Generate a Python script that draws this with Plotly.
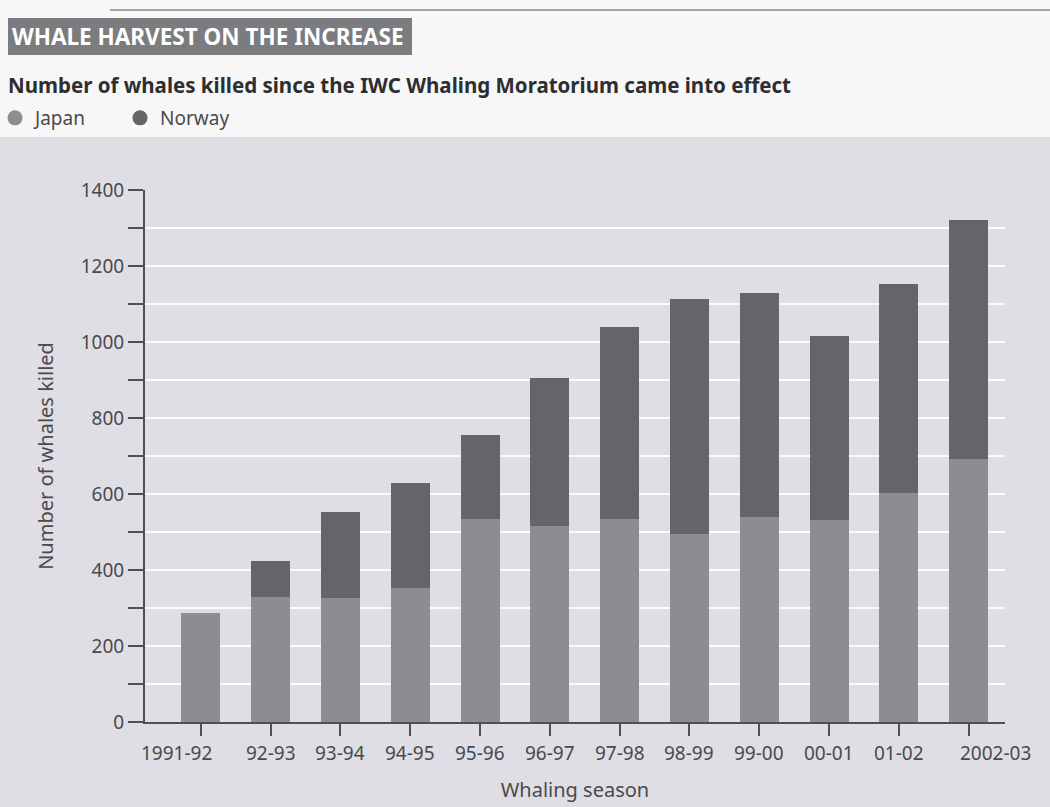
import plotly.graph_objects as go

seasons = ["1991-92", "92-93", "93-94", "94-95", "95-96", "96-97", "97-98",
           "98-99", "99-00", "00-01", "01-02", "2002-03"]
japan = [286, 330, 326, 352, 534, 516, 535, 495, 539, 532, 602, 691]
norway = [0, 94, 227, 278, 221, 388, 505, 618, 589, 485, 550, 631]
y_ticks = [0, 200, 400, 600, 800, 1000, 1200, 1400]

FONT = "Noto Sans, DejaVu Sans"
C_JAPAN = "#8b8d91"
C_NORWAY = "#636569"
AXIS = "#505052"
TXT = "#4a4a4c"

# plot area in pixels
L, R, T, B = 145, 45, 190, 85
W, H = 1050, 807
PW, PH = W - L - R, H - T - B


def px(x):
    return (x - L) / PW


def py(y):
    return (H - B - y) / PH


x_idx = list(range(len(seasons)))

fig = go.Figure()
fig.add_trace(go.Bar(x=x_idx, y=japan, name="Japan", marker_color=C_JAPAN,
                     marker_line_width=0, width=0.56, showlegend=False))
fig.add_trace(go.Bar(x=x_idx, y=norway, name="Norway", marker_color=C_NORWAY,
                     marker_line_width=0, width=0.56, showlegend=False))
# legend entries with round markers
fig.add_trace(go.Scatter(x=[None], y=[None], mode="markers", name="Japan",
                         marker=dict(color=C_JAPAN, size=15, symbol="circle")))
fig.add_trace(go.Scatter(x=[None], y=[None], mode="markers", name="Norway",
                         marker=dict(color=C_NORWAY, size=15, symbol="circle")))

shapes = [
    # grey panel behind the chart
    dict(type="rect", xref="paper", yref="paper", x0=px(-5), x1=px(W + 5),
         y0=py(H + 5), y1=py(137), fillcolor="#dedee4", line_width=0, layer="below"),
    # title box
    dict(type="rect", xref="paper", yref="paper", x0=px(8), x1=px(412),
         y0=py(55), y1=py(18), fillcolor="#7b7c80", line_width=0, layer="below"),
    # thin top rule
    dict(type="line", xref="paper", yref="paper", x0=px(110), x1=px(W),
         y0=py(10), y1=py(10), line=dict(color="#555", width=1.2)),
]

annotations = [
    dict(text="WHALE HARVEST ON THE INCREASE", x=px(10), y=py(37), xref="paper", yref="paper",
         xanchor="left", yanchor="middle", showarrow=False,
         font=dict(family=FONT, size=22.5, color="white", weight="bold")),
    dict(text="Number of whales killed since the IWC Whaling Moratorium came into effect",
         x=px(6), y=py(85), xref="paper", yref="paper", xanchor="left", yanchor="middle",
         showarrow=False, font=dict(family=FONT, size=20.5, color="#2e2e30", weight="bold")),
]

# x tick labels (end labels sit slightly outward, as in the original)
label_shift = {0: -24, len(seasons) - 1: 27}
for i, s in enumerate(seasons):
    annotations.append(dict(text=s, x=i, y=0, xref="x", yref="paper", yanchor="top",
                            yshift=-16, xshift=label_shift.get(i, 0), showarrow=False,
                            font=dict(family=FONT, size=19, color=TXT)))

fig.update_layout(
    width=W, height=H,
    barmode="stack",
    margin=dict(l=L, r=R, t=T, b=B, autoexpand=False),
    paper_bgcolor="#f7f7f7",
    plot_bgcolor="#e7e7ec",
    font=dict(family=FONT, size=19, color=TXT),
    showlegend=True,
    legend=dict(orientation="h", x=px(-5), y=py(99), xanchor="left", yanchor="top",
                traceorder="normal",
                bgcolor="rgba(0,0,0,0)", font=dict(family=FONT, size=19, color=TXT),
                itemwidth=30, tracegroupgap=0, entrywidth=80, entrywidthmode="pixels"),
    shapes=shapes,
    annotations=annotations,
    xaxis=dict(range=[-0.8, len(seasons) - 1 + 0.52], tickmode="array", tickvals=x_idx,
               showticklabels=False, ticks="outside", ticklen=12, tickwidth=1.5,
               tickcolor=AXIS, showline=True, linecolor=AXIS, linewidth=2,
               showgrid=False, zeroline=False,
               title=dict(text="Whaling season", standoff=48,
                          font=dict(family=FONT, size=20, color=TXT))),
    yaxis=dict(range=[0, 1400], tickmode="array", tickvals=y_ticks,
               ticks="outside", ticklen=15, tickwidth=1.5, tickcolor=AXIS,
               showline=True, linecolor=AXIS, linewidth=2,
               showgrid=True, gridcolor="#fbfbfd", gridwidth=1.5, zeroline=False,
               tickfont=dict(family=FONT, size=19, color=TXT),
               minor=dict(dtick=100, tick0=0, ticks="outside", ticklen=15, tickwidth=1.5,
                          tickcolor=AXIS, showgrid=True, gridcolor="#fbfbfd", gridwidth=1.5),
               title=dict(text="Number of whales killed", standoff=22,
                          font=dict(family=FONT, size=20, color=TXT))),
)

fig.write_html("out.html", config={"displayModeBar": False},
               post_script="document.body.style.margin='0';")
